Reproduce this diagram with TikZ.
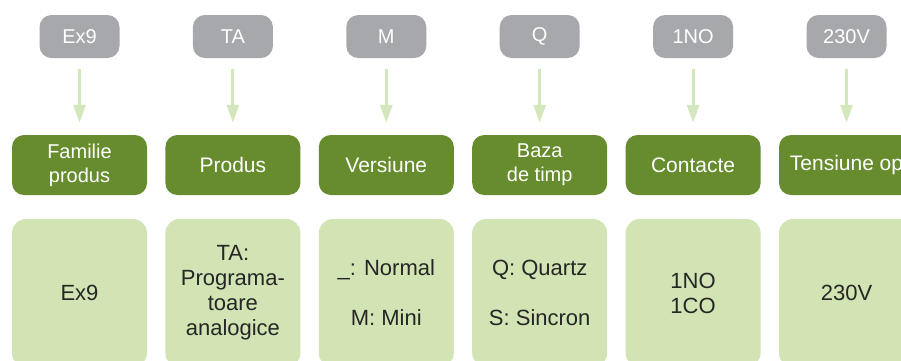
\documentclass[tikz,border=0pt]{standalone}
\usepackage{fontspec}
\setmainfont{Liberation Sans}
\usetikzlibrary{arrows.meta}
\definecolor{codegray}{HTML}{A7A8AB}
\definecolor{fieldgreen}{HTML}{678C2E}
\definecolor{optgreen}{HTML}{D2E4B3}
\definecolor{arrowgreen}{HTML}{D3E6BC}

\begin{document}
\begin{tikzpicture}[x=1pt, y=-1pt,
                code/.style={rectangle, fill=codegray, rounded corners=12pt, minimum width=80pt,
                minimum height=43pt, text=white, font=\fontsize{20}{24}\selectfont},
                field/.style={rectangle, fill=fieldgreen, rounded corners=12pt, minimum width=135pt,
                minimum height=60pt, align=center, text=white, font=\fontsize{21}{24}\selectfont},
                twoline/.style={font=\fontsize{20}{24}\selectfont},
                opt/.style={rectangle, fill=optgreen, rounded corners=14pt, minimum width=135pt,
                minimum height=148pt, align=center, text=black!85, font=\fontsize{22}{25}\selectfont},
                arrow/.style={-{Triangle[width=12pt,length=18pt]}, line width=3pt, draw=arrowgreen,
                shorten <=11pt, shorten >=12pt}
            ]
        \useasboundingbox (0,0) rectangle (901,360);

        \node[code] (ex9)  at (79.5,36.5)  {Ex9};
        \node[code] (ta)   at (232.9,36.5) {TA};
        \node[code] (m)    at (386.3,36.5) {M};
        \node[code] (q)    at (539.7,36.5) {Q};
        \node[code] (no)   at (693.1,36.5) {1NO};
        \node[code] (volt) at (846.5,36.5) {230V};

        \node[field, twoline] (familie)  at (79.5,165)  {Familie\\produs};
        \node[field]          (produs)   at (232.9,165) {Produs};
        \node[field]          (versiune) at (386.3,165) {Versiune};
        \node[field, twoline] (baza)     at (539.7,165) {Baza\\de timp};
        \node[field]          (contacte) at (693.1,165) {Contacte};
        \node[field]          (tensiune) at (846.5,165) {Tensiune op};

        \node[opt] (optfamilie)  at (79.5,293)  {Ex9};
        \node[opt] (optprodus)   at (232.9,293) {TA:\\Programa-\\toare\\analogice};
        \node[opt] (optversiune) at (386.3,293) {\_: Normal\\[25pt]M: Mini};
        \node[opt] (optbaza)     at (539.7,293) {Q: Quartz\\[25pt]S: Sincron};
        \node[opt] (optcontacte) at (693.1,293) {1NO\\1CO};
        \node[opt] (opttensiune) at (846.5,293) {230V};

        \draw[arrow] (ex9)  -- (familie);
        \draw[arrow] (ta)   -- (produs);
        \draw[arrow] (m)    -- (versiune);
        \draw[arrow] (q)    -- (baza);
        \draw[arrow] (no)   -- (contacte);
        \draw[arrow] (volt) -- (tensiune);
            \end{tikzpicture}
\end{document}
